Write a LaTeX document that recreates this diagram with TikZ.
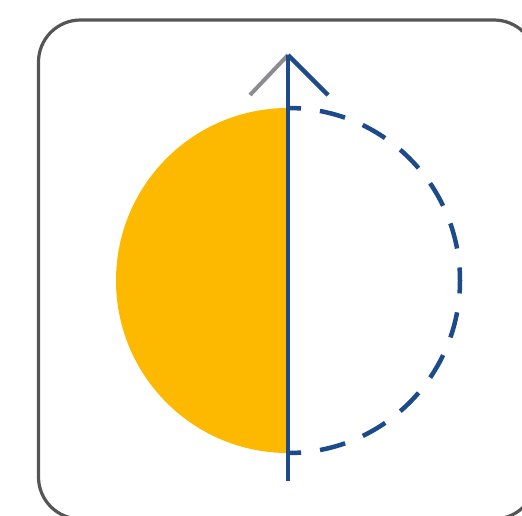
\documentclass[tikz,border=0pt]{standalone}
\definecolor{gold}{HTML}{FDB900}
\definecolor{axisblue}{HTML}{1C4A8A}
\definecolor{framegray}{HTML}{555555}
\definecolor{headgray}{HTML}{8E8A92}
\tikzset{
  frameline/.style={draw=framegray,line width=3.2pt,rounded corners=42pt},
  axisline/.style={draw=axisblue,line width=4.5pt},
  halfdash/.style={draw=axisblue,line width=4.5pt,dash pattern=on 26pt off 19.09pt,dash phase=13pt}
}
\begin{document}
\begin{tikzpicture}[x=1pt,y=-1pt]
\useasboundingbox (0,0) rectangle (522,515);
\clip (0,0) rectangle (522,515);
\coordinate (top) at (288,108);
\coordinate (bottom) at (288,453);
\coordinate (tip) at (288,55);
\coordinate (tail) at (288,481);
\coordinate (headL) at (250,95);
\coordinate (headR) at (328,95);
\draw[frameline] (38.5,20) rectangle (536,519);
\fill[gold] (top) arc[start angle=90,end angle=270,x radius=172,y radius=-172.5] -- cycle;
\draw[halfdash] (top) arc[start angle=90,end angle=-90,x radius=172,y radius=-172.5];
\draw[draw=headgray,line width=4pt] (tip) -- (headL);
\draw[axisline] (tip) -- (headR);
\draw[axisline] (tip) -- (tail);
\end{tikzpicture}
\end{document}
